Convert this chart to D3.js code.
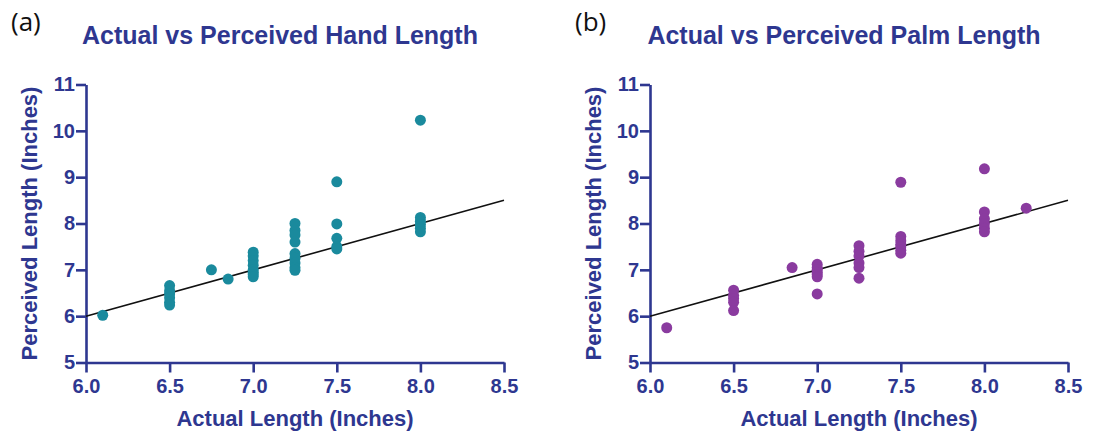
<!DOCTYPE html>
<html>
<head>
<meta charset="utf-8">
<script src="https://cdn.jsdelivr.net/npm/d3@7"></script>
<style>
	body { margin: 0; background: #fff; }
	svg { display: block; }
	.axis path, .axis line { stroke: #2e3790; stroke-width: 2.6px; }
	.axis text { fill: #2e3790; font-family: "Liberation Sans", Arial, sans-serif; font-weight: bold; }
	.title, .axis-title { fill: #2e3790; font-family: "Liberation Sans", Arial, sans-serif; font-weight: bold; }
	.panel-label { fill: #111; font-family: "Open Sans", "Noto Sans", sans-serif; font-size: 26px; }
</style>
</head>
<body>
<svg id="chart" width="1098" height="436"></svg>
<script>
// Hand length, panel (a)
const handActual = [
	6.1,
	6.5, 6.5, 6.5, 6.5, 6.5, 6.5,
	6.75, 6.85,
	7.0, 7.0, 7.0, 7.0, 7.0, 7.0, 7.0, 7.0,
	7.25, 7.25, 7.25, 7.25, 7.25, 7.25, 7.25, 7.25, 7.25,
	7.5, 7.5, 7.5, 7.5, 7.5,
	8.0, 8.0, 8.0, 8.0, 8.0, 8.0
];
const handPerceived = [
	6.02,
	6.66, 6.55, 6.48, 6.4, 6.3, 6.24,
	7.0, 6.8,
	7.38, 7.3, 7.2, 7.1, 7.0, 6.95, 6.9, 6.85,
	8.0, 7.85, 7.75, 7.6, 7.35, 7.25, 7.15, 7.05, 6.99,
	8.9, 7.99, 7.68, 7.5, 7.45,
	10.23, 8.13, 8.05, 7.98, 7.9, 7.82
];

// Palm length, panel (b)
const palmActual = [
	6.1,
	6.5, 6.5, 6.5, 6.5, 6.5,
	6.85,
	7.0, 7.0, 7.0, 7.0, 7.0, 7.0, 7.0,
	7.25, 7.25, 7.25, 7.25, 7.25, 7.25,
	7.5, 7.5, 7.5, 7.5, 7.5, 7.5, 7.5,
	8.0, 8.0, 8.0, 8.0, 8.0, 8.0,
	8.25
];
const palmPerceived = [
	5.75,
	6.56, 6.45, 6.38, 6.3, 6.12,
	7.05,
	7.12, 7.05, 7.0, 6.95, 6.9, 6.85, 6.48,
	7.52, 7.4, 7.3, 7.15, 7.05, 6.82,
	8.89, 7.72, 7.63, 7.55, 7.5, 7.42, 7.36,
	9.18, 8.25, 8.1, 8.0, 7.9, 7.82,
	8.33
];

// identity line drawn in both panels
const lineX = [6.0, 8.5];
const lineY = [6.0, 8.5];

const xTicks = [6.0, 6.5, 7.0, 7.5, 8.0, 8.5];
const yTicks = [5, 6, 7, 8, 9, 10, 11];

const panels = [
	{ label: "(a)", title: "Actual vs Perceived Hand Length", xs: handActual, ys: handPerceived, color: "#1a8a9d", left: 86 },
	{ label: "(b)", title: "Actual vs Perceived Palm Length", xs: palmActual, ys: palmPerceived, color: "#8a3b9f", left: 650 }
];

const svg = d3.select("#chart");
const plotW = 418, plotTop = 84.5, plotBottom = 362.5;

panels.forEach(p => {
	const g = svg.append("g");

	const x = d3.scaleLinear().domain([6.0, 8.5]).range([p.left, p.left + plotW]);
	const y = d3.scaleLinear().domain([5, 11]).range([plotBottom, plotTop]);

	// axes
	g.append("g")
		.attr("class", "axis")
		.attr("transform", `translate(0,${plotBottom})`)
		.call(d3.axisBottom(x).tickValues(xTicks).tickFormat(d3.format(".1f")).tickSize(10).tickSizeOuter(0).tickPadding(6))
		.selectAll("text").style("font-size", "20px");

	g.append("g")
		.attr("class", "axis")
		.attr("transform", `translate(${p.left},0)`)
		.call(d3.axisLeft(y).tickValues(yTicks).tickFormat(d3.format("d")).tickSize(10).tickSizeOuter(0).tickPadding(1))
		.selectAll("text").style("font-size", "20px");

	// identity line
	g.append("path")
		.attr("d", d3.line().x(d => x(d[0])).y(d => y(d[1]))(d3.zip(lineX, lineY)))
		.attr("fill", "none")
		.attr("stroke", "#111")
		.attr("stroke-width", 1.6);

	// points
	g.selectAll("circle")
		.data(d3.zip(p.xs, p.ys))
		.join("circle")
		.attr("cx", d => x(d[0]))
		.attr("cy", d => y(d[1]))
		.attr("r", 5.5)
		.attr("fill", p.color);

	// titles
	g.append("text")
		.attr("class", "title")
		.attr("x", p.left + 194)
		.attr("y", 44)
		.attr("text-anchor", "middle")
		.style("font-size", "25px")
		.text(p.title);

	g.append("text")
		.attr("class", "axis-title")
		.attr("x", p.left + 209)
		.attr("y", 426)
		.attr("text-anchor", "middle")
		.style("font-size", "22px")
		.text("Actual Length (Inches)");

	g.append("text")
		.attr("class", "axis-title")
		.attr("transform", `translate(${p.left - 49},${(plotTop + plotBottom) / 2}) rotate(-90)`)
		.attr("text-anchor", "middle")
		.style("font-size", "22px")
		.text("Perceived Length (Inches)");

	g.append("text")
		.attr("class", "panel-label")
		.attr("x", p.left - 75)
		.attr("y", 31)
		.text(p.label);
});
</script>
</body>
</html>
